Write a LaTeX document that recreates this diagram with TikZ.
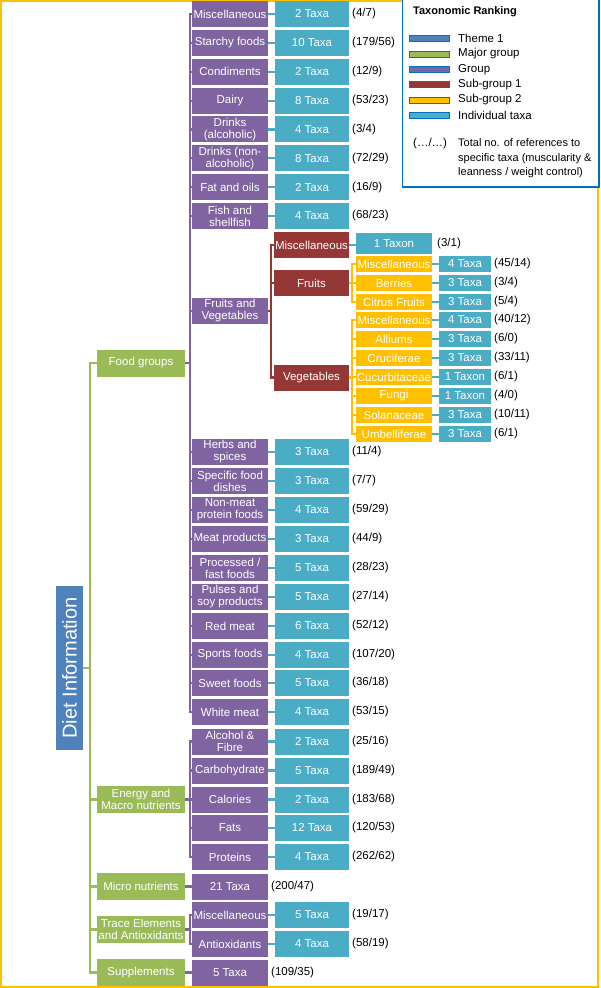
\documentclass[tikz,border=0pt]{standalone}
\usepackage{fontspec}
\setmainfont{Liberation Sans}
\usetikzlibrary{positioning}
\definecolor{cTheme}{HTML}{4F81BD}
\definecolor{cMajor}{HTML}{9BBB59}
\definecolor{cGroup}{HTML}{8064A2}
\definecolor{cSubA} {HTML}{953735}
\definecolor{cSubB} {HTML}{FFC000}
\definecolor{cTaxa} {HTML}{4BACC6}
\definecolor{cFrame}{HTML}{FFC000}
\definecolor{cLegend}{HTML}{0070C0}

\begin{document}
\begin{tikzpicture}[x=1pt,y=-1pt,font=\fontsize{11.5}{12}\selectfont,
    box/.style={inner sep=0pt,align=center,text=white,minimum height=26pt},
    theme/.style={box,fill=cTheme,minimum width=27pt,minimum height=164pt,font=\fontsize{20}{20}\selectfont},
    major/.style={box,fill=cMajor,minimum width=88pt,minimum height=27pt},
    grp/.style={box,fill=cGroup,minimum width=76pt},
    subA/.style={box,fill=cSubA,minimum width=75pt},
    subB/.style={box,fill=cSubB,minimum width=76pt,minimum height=16pt},
    taxa/.style={box,fill=cTaxa,minimum width=74pt},
    taxs/.style={box,fill=cTaxa,minimum width=52pt,minimum height=16pt},
    cnt/.style={anchor=west,inner sep=0pt},
    swatch/.style={draw=cLegend,line width=0.8pt,minimum width=40pt,minimum height=6pt,inner sep=0pt},
    lnk/.style={line width=2.2pt}]
  \useasboundingbox (0,0) rectangle (600,988);
  \draw[cFrame,line width=2pt] (1,1) rectangle (598,987);

  % theme and major groups
  \node[theme] (th) at (69.5,668) {\rotatebox{90}{Diet Information}};
  \node[major] (fg) at (141,363) {Food groups};
  \node[major] (en) at (141,799.5) {Energy and\\Macro nutrients};
  \node[major] (mi) at (141,886.5) {Micro nutrients};
  \node[major] (tr) at (141,929.5) {Trace Elements\\and Antioxidants};
  \node[major] (su) at (141,972.5) {Supplements};
  \foreach \m in {fg,en,mi,tr,su}
    \draw[lnk,cMajor] (th.east) -- ++(7,0) |- (\m.west);

  % food groups
  \foreach \y/\nm/\tx/\a/\b [count=\i] in {14/Miscellaneous/2 Taxa/4/7,
      42.9/Starchy foods/10 Taxa/179/56, 71.7/Condiments/2 Taxa/12/9,
      100.6/Dairy/8 Taxa/53/23, 129.4/Drinks\\(alcoholic)/4 Taxa/3/4,
      158.3/Drinks (non-\\alcoholic)/8 Taxa/72/29, 187.2/Fat and oils/2 Taxa/16/9,
      216/Fish and\\shellfish/4 Taxa/68/23, 452/Herbs and\\spices/3 Taxa/11/4,
      481/Specific food\\dishes/3 Taxa/7/7, 510/Non-meat\\protein foods/4 Taxa/59/29,
      539/Meat products/3 Taxa/44/9, 568/{Processed /\\fast foods}/5 Taxa/28/23,
      597/Pulses and\\soy products/5 Taxa/27/14, 626/Red meat/6 Taxa/52/12,
      655/Sports foods/4 Taxa/107/20, 683/Sweet foods/5 Taxa/36/18,
      712/White meat/4 Taxa/53/15}{
    \node[grp] (f\i) at (230,\y) {\nm};
    \node[taxa] (ft\i) at (312,\y) {\tx};
    \node[cnt] (fn\i) at (352,\y) {(\a/\b)};
    \draw[lnk,cGroup] (fg.east) -- ++(5,0) |- (f\i.west);
    \draw[lnk,cTaxa] (f\i) -- (ft\i);
  }

  % fruits and vegetables
  \node[grp] (fv) at (230,311) {Fruits and\\Vegetables};
  \draw[lnk,cGroup] (fg.east) -- ++(5,0) |- (fv.west);
  \node[subA] (sm) at (311.5,245) {Miscellaneous};
  \node[subA] (sf) at (311.5,283) {Fruits};
  \node[subA] (sv) at (311.5,377.5) {Vegetables};
  \foreach \s in {sm,sf,sv}
    \draw[lnk,cSubA] (fv.east) -- ++(3,0) |- (\s.west);
  \node[taxa,minimum width=76pt,minimum height=21pt] (smt) at (394,243.5) {1 Taxon};
  \node[cnt] (smn) at (437,243.5) {(3/1)};
  \draw[lnk,cTaxa] (sm.east) -- (sm.east -| smt.west);

  \foreach \y/\nm/\tx/\a/\b [count=\i] in {264/Miscellaneous/4 Taxa/45/14,
      283/Berries/3 Taxa/3/4, 302/Citrus Fruits/3 Taxa/5/4}{
    \node[subB] (fr\i) at (394,\y) {\nm};
    \node[taxs] (frt\i) at (465,\y) {\tx};
    \node[cnt] (frn\i) at (494,\y) {(\a/\b)};
    \draw[lnk,cSubB] (sf.east) -- ++(3,0) |- (fr\i.west);
    \draw[lnk,cTaxa] (fr\i) -- (frt\i);
  }
  \foreach \y/\nm/\tx/\a/\b [count=\i] in {320/Miscellaneous/4 Taxa/40/12,
      339/Alliums/3 Taxa/6/0, 358/Cruciferae/3 Taxa/33/11,
      377/Cucurbitaceae/1 Taxon/6/1, 396/Fungi/1 Taxon/4/0,
      415/Solanaceae/3 Taxa/10/11, 434/Umbelliferae/3 Taxa/6/1}{
    \node[subB] (vg\i) at (394,\y) {\nm};
    \node[taxs] (vgt\i) at (465,\y) {\tx};
    \node[cnt] (vgn\i) at (494,\y) {(\a/\b)};
    \draw[lnk,cSubB] (sv.east) -- ++(3,0) |- (vg\i.west);
    \draw[lnk,cTaxa] (vg\i) -- (vgt\i);
  }

  % energy and macro nutrients
  \foreach \y/\nm/\tx/\a/\b [count=\i] in {741.5/Alcohol \&\\Fibre/2 Taxa/25/16,
      770.5/Carbohydrate/5 Taxa/189/49, 799.5/Calories/2 Taxa/183/68,
      828/Fats/12 Taxa/120/53, 857/Proteins/4 Taxa/262/62}{
    \node[grp] (e\i) at (230,\y) {\nm};
    \node[taxa] (et\i) at (312,\y) {\tx};
    \node[cnt] (en\i) at (352,\y) {(\a/\b)};
    \draw[lnk,cGroup] (en.east) -- ++(5,0) |- (e\i.west);
    \draw[lnk,cTaxa] (e\i) -- (et\i);
  }

  % micro nutrients
  \node[grp] (mit) at (230,886.5) {21 Taxa};
  \node[cnt] (min) at (271,886.5) {(200/47)};
  \draw[lnk,cGroup] (mi) -- (mit);

  % trace elements
  \foreach \y/\nm/\tx/\a/\b [count=\i] in {915/Miscellaneous/5 Taxa/19/17,
      944/Antioxidants/4 Taxa/58/19}{
    \node[grp] (r\i) at (230,\y) {\nm};
    \node[taxa] (rt\i) at (312,\y) {\tx};
    \node[cnt] (rn\i) at (352,\y) {(\a/\b)};
    \draw[lnk,cGroup] (tr.east) -- ++(5,0) |- (r\i.west);
    \draw[lnk,cTaxa] (r\i) -- (rt\i);
  }

  % supplements
  \node[grp] (sut) at (230,972.5) {5 Taxa};
  \node[cnt] (sun) at (271,972.5) {(109/35)};
  \draw[lnk,cGroup] (su) -- (sut);

  % legend
  \draw[cLegend,line width=1.2pt,fill=white] (402.5,-5) rectangle (599,187);
  \node[anchor=west,inner sep=0pt,font=\bfseries\fontsize{11}{12}\selectfont] (lgt) at (413,12) {Taxonomic Ranking};
  \foreach \y/\c/\t [count=\i] in {38.5/cTheme/Theme 1, 54/cMajor/Major group,
      69.5/cGroup/Group, 84.5/cSubA/Sub-group 1, 100/cSubB/Sub-group 2,
      115/cTaxa/Individual taxa}{
    \node[swatch,fill=\c] (sw\i) at (429.5,\y) {};
    \node[cnt] (lb\i) at (458,\y) {\t};
  }
  \node[cnt] (lgk) at (413,144) {(…/…)};
  \node[cnt,align=left,font=\fontsize{11}{14.6}\selectfont] (lgd) at (458,158.5)
    {Total no. of references to\\specific taxa (muscularity \&\\leanness / weight control)};
\end{tikzpicture}
\end{document}
